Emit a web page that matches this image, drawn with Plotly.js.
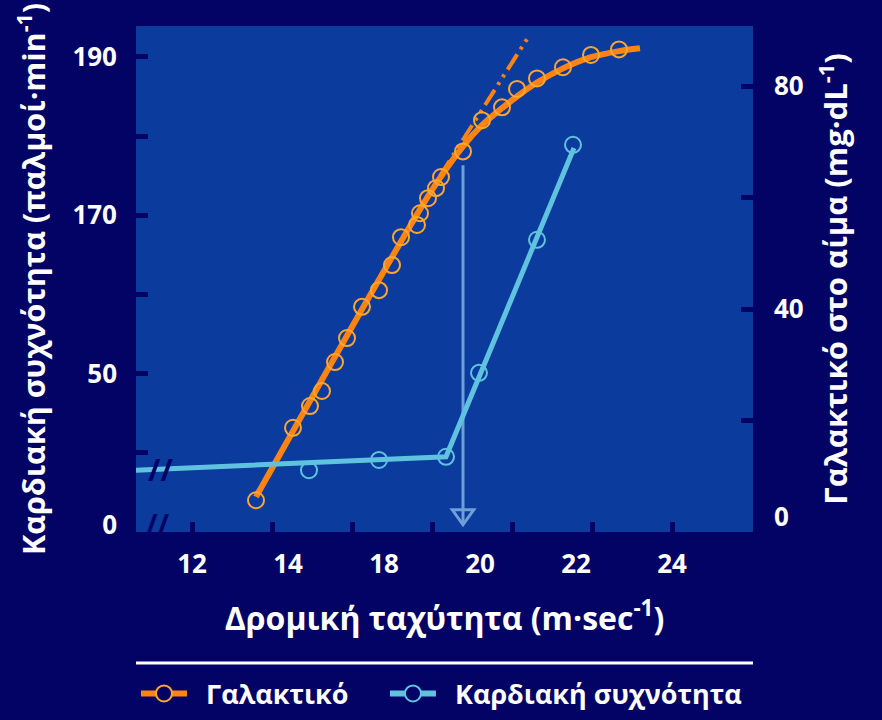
<!DOCTYPE html>
<html><head><meta charset="utf-8">
<script src="https://cdn.plot.ly/plotly-3.0.1.min.js"></script>
<style>html,body{margin:0;padding:0;background:#030366;}#chart{width:882px;height:720px;}</style>
</head><body><div id="chart"></div>
<script>
// ---- Data ----
// Lactate (mg·dL-1, right axis) vs running speed (m·sec-1)
const lactateSpeed = [13.6, 14.525, 14.95, 15.25, 15.575, 15.875, 16.25, 16.675, 17.0, 17.225, 17.625, 17.7, 17.9, 18.1, 18.225, 18.775, 19.25, 19.75, 20.125, 20.625, 21.275, 21.975, 22.675];
const lactateValue = [5.7, 18.7, 22.6, 25.3, 30.5, 34.8, 40.4, 43.4, 47.9, 52.9, 55.1, 57.2, 59.9, 61.7, 63.7, 68.3, 73.9, 76.2, 79.5, 81.4, 83.4, 85.6, 86.6];
// Lactate fitted curve
const lactateFitSpeed = [13.6, 17.95, 18.775, 19.25, 19.75, 20.125, 20.625, 21.275, 21.975, 22.675, 23.2];
const lactateFitValue = [6.3, 60.8, 69.2, 73.0, 76.05, 78.15, 80.65, 83.2, 85.2, 86.3, 86.8];
// Linear extrapolation (dash-dot)
const lactateExtSpeed = [18.2, 20.45];
const lactateExtValue = [63.9, 89.3];
// Heart rate (left axis) vs speed
const hrSpeed = [14.925, 16.675, 18.35, 19.175, 20.625, 21.525];
const hrValue = [137.8, 139.1, 139.5, 150.1, 166.9, 178.9];
// Heart rate fitted two-segment line
const hrFitSpeed = [10.6, 18.35, 21.55];
const hrFitValue = [137.8, 139.5, 178.5];
// Axis ticks and labels
const xTickVals = [12, 14, 16, 18, 20, 22, 24];
const xLabelVals = [12, 14.4, 16.8, 19.2, 21.6, 24];
const xLabelText = ['12', '14', '18', '20', '22', '24'];
const hrTickVals = [140, 150, 160, 170, 180, 190];
const hrLabelVals = [130.9, 150, 170, 190];
const hrLabelText = ['0', '50', '170', '190'];
const lacTickVals = [20, 40, 60, 80];
const lacLabelVals = [2.7, 40, 80];
const lacLabelText = ['0', '40', '80'];
// Threshold arrow
const thresholdSpeed = 18.775;
const arrowTop = 65.8;
const arrowTip = 1.3;
// Legend names
const seriesNames = ['Γαλακτικό', 'Καρδιακή συχνότητα'];

// ---- Styles ----
const navy = '#030366';
const plotBg = '#0b3b9d';
const orange = '#ff8412';
const orangeMk = '#ffa631';
const blue = '#5fc3df';
const arrowCol = '#6e9fd6';
const FONT = 'Open Sans, Noto Sans, sans-serif';
const xRange = [10.6, 26.025];
const lacRange = [0, 90.8];
const hrRange = [130, 193.9];
const NB = '\u00a0';

const traces = [
  {x: lactateExtSpeed, y: lactateExtValue, yaxis: 'y', mode: 'lines',
   line: {color: orange, width: 4, dash: '18px,6px,3px,6px,3px,6px'}, showlegend: false, hoverinfo: 'skip'},
  {x: lactateFitSpeed, y: lactateFitValue, yaxis: 'y', mode: 'lines',
   line: {color: orange, width: 6, shape: 'spline', smoothing: 0.8}, showlegend: false, hoverinfo: 'skip'},
  {x: lactateSpeed, y: lactateValue, yaxis: 'y', mode: 'markers',
   marker: {symbol: 'circle-open', size: 16, color: orangeMk, line: {width: 2, color: orangeMk}}, showlegend: false},
  {x: hrFitSpeed, y: hrFitValue, yaxis: 'y2', mode: 'lines',
   line: {color: blue, width: 5}, showlegend: false, hoverinfo: 'skip'},
  {x: hrSpeed, y: hrValue, yaxis: 'y2', mode: 'markers',
   marker: {symbol: 'circle-open', size: 16, color: blue, line: {width: 2, color: blue}}, showlegend: false},
  // empty traces so the label-only overlay axes are drawn
  {x: [null], y: [null], xaxis: 'x2', yaxis: 'y', mode: 'markers', showlegend: false},
  {x: [null], y: [null], xaxis: 'x', yaxis: 'y3', mode: 'markers', showlegend: false},
  {x: [null], y: [null], xaxis: 'x', yaxis: 'y4', mode: 'markers', showlegend: false},
  // legend entries
  {x: [null], y: [null], yaxis: 'y', mode: 'lines+markers', name: NB + NB + seriesNames[0], legend: 'legend',
   line: {color: orange, width: 6}, marker: {symbol: 'circle', size: 16, color: navy, line: {width: 2, color: orangeMk}}},
  {x: [null], y: [null], yaxis: 'y2', mode: 'lines+markers', name: NB + NB + seriesNames[1], legend: 'legend2',
   line: {color: blue, width: 6}, marker: {symbol: 'circle', size: 16, color: navy, line: {width: 2, color: blue}}}
];

const tickFont = {family: FONT, size: 26, color: '#ffffff', weight: 700};
const titleFont = {family: FONT, size: 32, color: '#ffffff', weight: 700};
const legendFont = {family: FONT, size: 27, color: '#ffffff', weight: 700};

const layout = {
  width: 882, height: 720,
  paper_bgcolor: navy, plot_bgcolor: plotBg,
  margin: {l: 136, r: 129, t: 26, b: 188, pad: 0, autoexpand: false},
  font: {family: FONT, color: '#ffffff', size: 26, weight: 700},
  xaxis: {range: xRange, tickvals: xTickVals, ticks: 'inside', ticklen: 10, tickwidth: 5, tickcolor: navy,
          showticklabels: false, showgrid: false, zeroline: false, showline: false, fixedrange: true},
  xaxis2: {range: xRange, overlaying: 'x', anchor: 'y', side: 'bottom', tickvals: xLabelVals, ticktext: xLabelText,
           ticks: '', ticklabelstandoff: 14, tickfont: tickFont, showgrid: false, zeroline: false, showline: false,
           title: {text: 'Δρομική ταχύτητα (m·sec<sup>-1</sup>)', font: titleFont, standoff: 27}},
  yaxis: {range: lacRange, side: 'right', tickvals: lacTickVals, ticks: 'inside', ticklen: 12, tickwidth: 5, tickcolor: navy,
          showticklabels: false, showgrid: false, zeroline: false, showline: false},
  yaxis2: {range: hrRange, overlaying: 'y', side: 'left', tickvals: hrTickVals, ticks: 'inside', ticklen: 12, tickwidth: 5, tickcolor: navy,
           showticklabels: false, showgrid: false, zeroline: false, showline: false},
  yaxis3: {range: hrRange, overlaying: 'y', side: 'left', tickvals: hrLabelVals, ticktext: hrLabelText, ticks: '',
           ticklabelstandoff: 18, tickfont: tickFont, showgrid: false, zeroline: false, showline: false,
           title: {text: 'Καρδιακή συχνότητα (παλμοί·min<sup>-1</sup>)' + NB + NB + NB,
                   font: {family: FONT, size: 30.5, color: '#ffffff', weight: 700}, standoff: 17}},
  yaxis4: {range: lacRange, overlaying: 'y', side: 'right', tickvals: lacLabelVals, ticktext: lacLabelText, ticks: '',
           ticklabelstandoff: 20, tickfont: tickFont, showgrid: false, zeroline: false, showline: false,
           title: {text: NB + NB + 'Γαλακτικό στο αίμα (mg·dL<sup>-1</sup>)', font: {family: FONT, size: 31, color: '#ffffff', weight: 700}, standoff: 22}},
  showlegend: true,
  legend: {orientation: 'h', x: 0, xanchor: 'left', y: -0.32, yanchor: 'middle', itemwidth: 46,
           bgcolor: 'rgba(0,0,0,0)', font: legendFont, itemclick: false, itemdoubleclick: false},
  legend2: {orientation: 'h', x: 0.4035, xanchor: 'left', y: -0.32, yanchor: 'middle', itemwidth: 46,
           bgcolor: 'rgba(0,0,0,0)', font: legendFont, itemclick: false, itemdoubleclick: false},
  shapes: [
    {type: 'line', xref: 'paper', yref: 'paper', x0: 0, x1: 1, y0: -0.259, y1: -0.259,
     line: {color: '#ffffff', width: 3}},
    {type: 'line', xref: 'x', yref: 'y', x0: thresholdSpeed, x1: thresholdSpeed, y0: arrowTop, y1: arrowTip,
     line: {color: arrowCol, width: 3}, layer: 'below'},
    {type: 'path', xref: 'x', yref: 'y',
     path: 'M' + (thresholdSpeed - 0.27) + ',' + (arrowTip + 2.7) + ' L' + thresholdSpeed + ',' + arrowTip +
           ' L' + (thresholdSpeed + 0.27) + ',' + (arrowTip + 2.7) + ' Z',
     line: {color: arrowCol, width: 3}, fillcolor: 'rgba(0,0,0,0)', layer: 'below'}
  ],
  annotations: [
    {xref: 'x', yref: 'y2', x: 11.2, y: hrFitValue[0] + 0.1, text: '//', showarrow: false,
     font: {family: FONT, size: 30, color: navy, weight: 700}},
    {xref: 'x', yref: 'y2', x: 11.15, y: 131.0, text: '//', showarrow: false,
     font: {family: FONT, size: 28, color: navy, weight: 700}}
  ]
};

Plotly.newPlot('chart', traces, layout, {staticPlot: true, displayModeBar: false});
</script>
</body></html>
